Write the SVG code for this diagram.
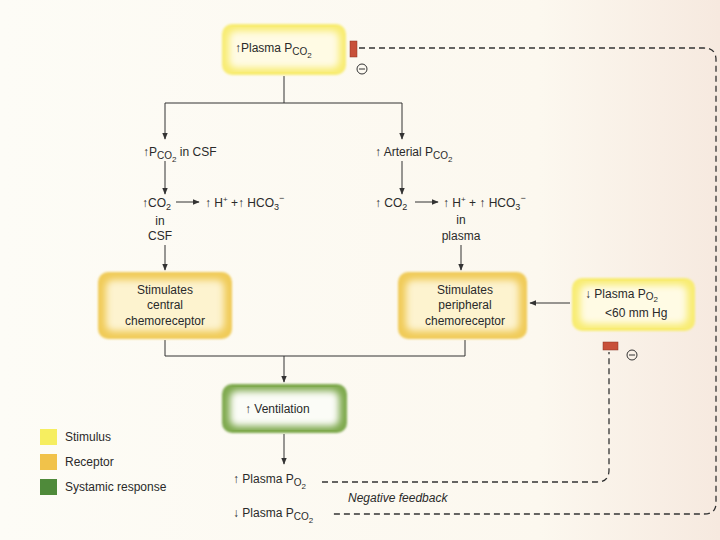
<svg xmlns="http://www.w3.org/2000/svg" width="720" height="540" viewBox="0 0 720 540">
<defs>
<style>
text{font-family:"Liberation Sans",Arial,sans-serif;font-size:12px;fill:#2a2a2a}
.c{text-anchor:middle}
.ln{stroke:#333;stroke-width:1;fill:none}
.dash{stroke:#333;stroke-width:1.3;fill:none;stroke-dasharray:6,4}
.stimO{fill:#f8ec72}
.stimI{fill:#fffbe4}
.recO{fill:#f0cb58}
.recI{fill:#fdf3cf}
.sysO{fill:#7ea94e}
.sysI{fill:#fbfcf7}
.bar{fill:#c8503a;stroke:#8a3020;stroke-width:0.5}
.ico{fill:none;stroke:#333;stroke-width:1}
</style>
<filter id="edge" x="-10%" y="-10%" width="120%" height="120%">
<feGaussianBlur stdDeviation="1.2"/>
</filter>
<filter id="soft" x="-10%" y="-10%" width="120%" height="120%">
<feGaussianBlur stdDeviation="3.5"/>
</filter>
<marker id="ah" viewBox="0 0 10 10" refX="9" refY="5" markerWidth="7" markerHeight="7" orient="auto-start-reverse">
<path d="M0,1 L10,5 L0,9 z" fill="#333"/>
</marker>
<linearGradient id="bg" x1="0" y1="0" x2="1" y2="0">
<stop offset="0" stop-color="#fdfcf6"/>
<stop offset="0.75" stop-color="#fcf8ef"/>
<stop offset="1" stop-color="#f6e9df"/>
</linearGradient>
</defs>
<rect x="0" y="0" width="720" height="540" fill="url(#bg)"/>

<g id="connectors">
<path class="ln" d="M284,76 V103 M165,103 H402"/>
<line class="ln" x1="165" y1="103" x2="165" y2="139" marker-end="url(#ah)"/>
<line class="ln" x1="402" y1="103" x2="402" y2="139" marker-end="url(#ah)"/>
<line class="ln" x1="165" y1="161" x2="165" y2="194" marker-end="url(#ah)"/>
<line class="ln" x1="402" y1="161" x2="402" y2="194" marker-end="url(#ah)"/>
<line class="ln" x1="176" y1="202" x2="199" y2="202" marker-end="url(#ah)"/>
<line class="ln" x1="415" y1="202" x2="438" y2="202" marker-end="url(#ah)"/>
<line class="ln" x1="165" y1="245" x2="165" y2="270" marker-end="url(#ah)"/>
<line class="ln" x1="461" y1="245" x2="461" y2="270" marker-end="url(#ah)"/>
<line class="ln" x1="570" y1="303" x2="530" y2="303" marker-end="url(#ah)"/>
<path class="ln" d="M165,340 V356 H465 V340"/>
<line class="ln" x1="284" y1="356" x2="284" y2="382" marker-end="url(#ah)"/>
<line class="ln" x1="284" y1="434" x2="284" y2="464" marker-end="url(#ah)"/>
<path class="dash" d="M359,48 H704 Q716,48 716,60 V503 Q716,514 704,514 H332"/>
<path class="dash" d="M322,482 H597 Q609,482 609,470 V352"/>
</g>

<g id="node-plasma-pco2">
<rect class="stimO" x="222" y="24" width="124" height="51" rx="10" filter="url(#edge)"/>
<rect class="stimI" x="229" y="31" width="110" height="37" rx="7" filter="url(#soft)"/>
<text x="235" y="52">↑Plasma  P<tspan font-size="10" dy="3">CO</tspan><tspan font-size="8" dy="3">2</tspan></text>
<rect class="bar" x="350" y="41" width="7" height="16"/>
<circle class="ico" cx="362" cy="69" r="5"/><line class="ico" x1="359" y1="69" x2="365" y2="69"/>
</g>

<g id="node-pco2-csf">
<text x="143" y="156">↑P<tspan font-size="10" dy="3">CO</tspan><tspan font-size="8" dy="3">2</tspan><tspan dy="-6"> in CSF</tspan></text>
</g>
<g id="node-co2-csf">
<text x="142" y="207">↑CO<tspan font-size="9" dy="3">2</tspan></text>
<text x="205" y="207">↑ H<tspan font-size="8" dy="-5">+</tspan><tspan dy="5"> +↑ HCO</tspan><tspan font-size="9" dy="3">3</tspan><tspan font-size="9" dy="-9">−</tspan></text>
<text class="c" x="160" y="225">in</text>
<text class="c" x="160" y="240">CSF</text>
</g>

<g id="node-arterial-pco2">
<text x="375" y="156">↑ Arterial P<tspan font-size="10" dy="3">CO</tspan><tspan font-size="8" dy="3">2</tspan></text>
</g>
<g id="node-co2-plasma">
<text x="375" y="207">↑ CO<tspan font-size="9" dy="3">2</tspan></text>
<text x="443" y="207">↑ H<tspan font-size="8" dy="-5">+</tspan><tspan dy="5"> + ↑ HCO</tspan><tspan font-size="9" dy="3">3</tspan><tspan font-size="9" dy="-9">−</tspan></text>
<text class="c" x="461" y="224">in</text>
<text class="c" x="461" y="240">plasma</text>
</g>

<g id="node-central">
<rect class="recO" x="98" y="272" width="134" height="67" rx="10" filter="url(#edge)"/>
<rect class="recI" x="106" y="280" width="118" height="51" rx="7" filter="url(#soft)"/>
<text class="c" x="165" y="294">Stimulates</text>
<text class="c" x="165" y="309">central</text>
<text class="c" x="165" y="325">chemoreceptor</text>
</g>

<g id="node-peripheral">
<rect class="recO" x="398" y="272" width="129" height="67" rx="10" filter="url(#edge)"/>
<rect class="recI" x="406" y="280" width="113" height="51" rx="7" filter="url(#soft)"/>
<text class="c" x="465" y="294">Stimulates</text>
<text class="c" x="465" y="309">peripheral</text>
<text class="c" x="465" y="325">chemoreceptor</text>
</g>

<g id="node-plasma-po2-low">
<rect class="stimO" x="572" y="278" width="123" height="53" rx="10" filter="url(#edge)"/>
<rect class="stimI" x="580" y="285" width="107" height="39" rx="7" filter="url(#soft)"/>
<text x="585" y="298">↓ Plasma  P<tspan font-size="10" dy="2">O</tspan><tspan font-size="8" dy="2">2</tspan></text>
<text x="605" y="317">&lt;60 mm Hg</text>
<rect class="bar" x="603" y="342" width="15" height="8"/>
<circle class="ico" cx="632" cy="355" r="5"/><line class="ico" x1="629" y1="355" x2="635" y2="355"/>
</g>

<g id="node-ventilation">
<rect class="sysO" x="222" y="384" width="125" height="49" rx="10" filter="url(#edge)"/>
<rect class="sysI" x="230" y="391" width="109" height="35" rx="7" filter="url(#soft)"/>
<text x="245" y="413">↑ Ventilation</text>
</g>

<g id="node-plasma-po2-up">
<text x="233" y="483">↑ Plasma  P<tspan font-size="10" dy="3">O</tspan><tspan font-size="8" dy="3">2</tspan></text>
</g>
<text x="348" y="502" font-style="italic">Negative feedback</text>
<g id="node-plasma-pco2-down">
<text x="233" y="517">↓ Plasma  P<tspan font-size="10" dy="3">CO</tspan><tspan font-size="8" dy="3">2</tspan></text>
</g>

<g id="legend">
<rect x="40" y="429" width="17" height="16" fill="#f6ee60"/>
<text x="65" y="441">Stimulus</text>
<rect x="40" y="454" width="17" height="16" fill="#f1c24a"/>
<text x="65" y="466">Receptor</text>
<rect x="40" y="479" width="17" height="16" fill="#4f8a3a"/>
<text x="65" y="491">Systamic response</text>
</g>
</svg>
